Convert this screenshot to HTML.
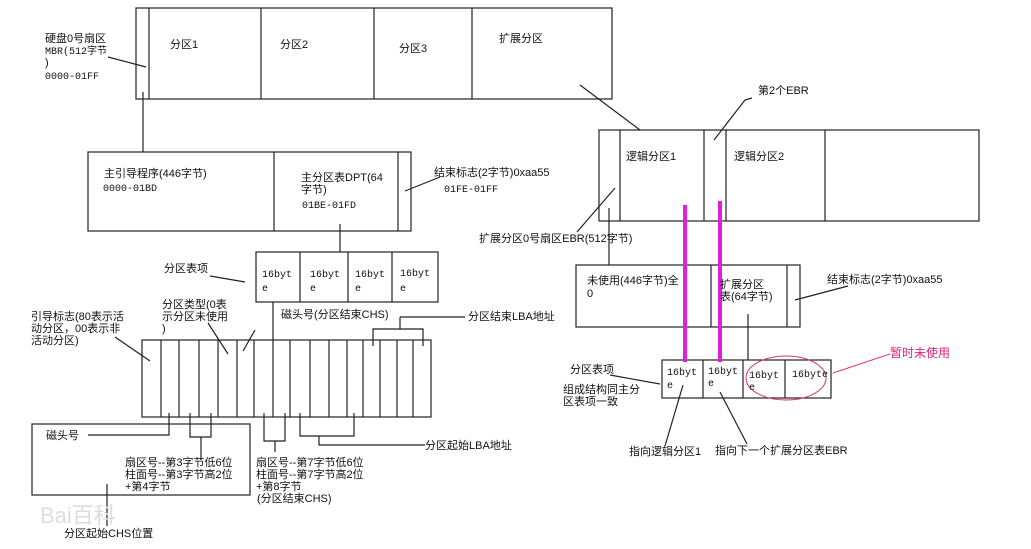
<!DOCTYPE html>
<html><head><meta charset="utf-8"><style>
body{margin:0;background:#fff}
svg{display:block}
text{font-family:"Liberation Sans","Noto Sans CJK SC",sans-serif;font-size:11px;fill:#111}
.m{font-family:"Liberation Mono","Noto Sans CJK SC",monospace;font-size:10px}
</style></head><body>
<svg width="1031" height="549" viewBox="0 0 1031 549" xmlns="http://www.w3.org/2000/svg">
<g stroke="#222" stroke-width="1.2" fill="none">
<!-- top disk -->
<rect x="136" y="8" width="476" height="91"/>
<line x1="149" y1="8" x2="149" y2="99"/><line x1="261" y1="8" x2="261" y2="99"/>
<line x1="374" y1="8" x2="374" y2="99"/><line x1="472" y1="8" x2="472" y2="99"/>
<line x1="108" y1="57" x2="146" y2="67"/>
<line x1="143" y1="92" x2="143" y2="152"/>
<line x1="580" y1="85" x2="640" y2="130"/>
<!-- MBR box -->
<rect x="88" y="152" width="323" height="79"/>
<line x1="274" y1="152" x2="274" y2="231"/><line x1="398" y1="152" x2="398" y2="231"/>
<line x1="340" y1="224" x2="340" y2="252"/>
<line x1="405" y1="191" x2="440" y2="177"/>
<!-- 16byt table -->
<rect x="256" y="252" width="182" height="50"/>
<line x1="300" y1="252" x2="300" y2="302"/><line x1="348" y1="252" x2="348" y2="302"/><line x1="392" y1="252" x2="392" y2="302"/>
<line x1="210" y1="276" x2="245" y2="282"/>
<!-- entry bytes -->
<rect x="142" y="340" width="289" height="77"/>
<line x1="161" y1="340" x2="161" y2="417"/><line x1="179" y1="340" x2="179" y2="417"/><line x1="199" y1="340" x2="199" y2="417"/>
<line x1="218" y1="340" x2="218" y2="417"/><line x1="237" y1="340" x2="237" y2="417"/><line x1="254" y1="340" x2="254" y2="417"/>
<line x1="273" y1="302" x2="273" y2="417"/><line x1="290" y1="340" x2="290" y2="417"/><line x1="310" y1="340" x2="310" y2="417"/>
<line x1="329" y1="340" x2="329" y2="417"/><line x1="347" y1="340" x2="347" y2="417"/><line x1="363" y1="340" x2="363" y2="417"/>
<line x1="380" y1="340" x2="380" y2="417"/><line x1="397" y1="340" x2="397" y2="417"/><line x1="413" y1="340" x2="413" y2="417"/>
<line x1="115" y1="337" x2="150" y2="361"/>
<line x1="208" y1="323" x2="228" y2="354"/>
<line x1="255" y1="330" x2="243" y2="351"/>
<polyline points="373,346 373,329 423,329 423,346"/><line x1="400" y1="329" x2="400" y2="317"/><line x1="400" y1="317" x2="465" y2="317"/>
<!-- below entry -->
<polyline points="88,435 169,435 169,413"/>
<polyline points="190,413 190,437 211,437 211,413"/><line x1="201" y1="437" x2="201" y2="460"/>
<polyline points="264,413 264,441 285,441 285,413"/><line x1="275" y1="441" x2="275" y2="452"/>
<polyline points="300,413 300,436 354,436 354,413"/><polyline points="319,436 319,445 425,445"/>
<rect x="32" y="424" width="218" height="71"/>
<line x1="107" y1="484" x2="107" y2="526"/>
<!-- EBR -->
<rect x="599" y="130" width="380" height="91"/>
<line x1="620" y1="130" x2="620" y2="221"/><line x1="704" y1="130" x2="704" y2="221"/>
<line x1="726" y1="130" x2="726" y2="221"/><line x1="825" y1="130" x2="825" y2="221"/>
<line x1="615" y1="188" x2="577" y2="232"/>
<line x1="714" y1="140" x2="745" y2="100"/><line x1="745" y1="100" x2="752" y2="98"/>
<line x1="609" y1="208" x2="609" y2="265"/>
<rect x="576" y="265" width="224" height="62"/>
<line x1="711" y1="265" x2="711" y2="327"/><line x1="787" y1="265" x2="787" y2="327"/>
<line x1="795" y1="300" x2="848" y2="286"/>
<line x1="748" y1="314" x2="748" y2="360"/>
<rect x="662" y="360" width="169" height="38"/>
<line x1="703" y1="360" x2="703" y2="398"/><line x1="743" y1="360" x2="743" y2="398"/><line x1="785" y1="360" x2="785" y2="398"/>
<line x1="610" y1="375" x2="660" y2="384"/>
<line x1="683" y1="385" x2="665" y2="446"/>
<line x1="720" y1="392" x2="747" y2="444"/>
</g>
<g stroke="#e020e0" stroke-width="4"><line x1="685" y1="205" x2="685" y2="362"/><line x1="720" y1="201" x2="720" y2="362"/></g>
<ellipse cx="786" cy="378" rx="40" ry="22" fill="none" stroke="#e0307a" stroke-width="1"/>
<line x1="833" y1="373" x2="890" y2="354" stroke="#e0307a" stroke-width="1"/>
<text x="890" y="357" style="fill:#e0207a;font-size:12px">暂时未使用</text>
<!-- texts -->
<text x="45" y="42">硬盘0号扇区</text><text x="45" y="54" class="m">MBR(512字节</text><text x="45" y="66">)</text><text x="45" y="79" class="m">0000-01FF</text>
<text x="170" y="48">分区1</text><text x="280" y="48">分区2</text><text x="399" y="52">分区3</text><text x="499" y="42">扩展分区</text>
<text x="104" y="177">主引导程序(446字节)</text><text x="103" y="191" class="m">0000-01BD</text>
<text x="301" y="181">主分区表DPT(64</text><text x="301" y="193">字节)</text><text x="302" y="208" class="m">01BE-01FD</text>
<text x="434" y="176">结束标志(2字节)0xaa55</text><text x="444" y="192" class="m">01FE-01FF</text>
<text x="164" y="272">分区表项</text>
<text x="262" y="277" class="m">16byt</text><text x="262" y="291" class="m">e</text>
<text x="310" y="277" class="m">16byt</text><text x="310" y="291" class="m">e</text>
<text x="355" y="277" class="m">16byt</text><text x="355" y="291" class="m">e</text>
<text x="400" y="276" class="m">16byt</text><text x="400" y="291" class="m">e</text>
<text x="31" y="320">引导标志(80表示活</text><text x="31" y="332">动分区，00表示非</text><text x="31" y="344">活动分区)</text>
<text x="162" y="308">分区类型(0表</text><text x="162" y="320">示分区未使用</text><text x="162" y="332">)</text>
<text x="281" y="318">磁头号(分区结束CHS)</text>
<text x="468" y="320">分区结束LBA地址</text>
<text x="46" y="439">磁头号</text>
<text x="125" y="466">扇区号--第3字节低6位</text><text x="125" y="478">柱面号--第3字节高2位</text><text x="125" y="490">+第4字节</text>
<text x="256" y="466">扇区号--第7字节低6位</text><text x="256" y="478">柱面号--第7字节高2位</text><text x="256" y="490">+第8字节</text><text x="257" y="502">(分区结束CHS)</text>
<text x="425" y="449">分区起始LBA地址</text>
<text x="64" y="537">分区起始CHS位置</text>
<text x="40" y="523" style="fill:#ddd;font-size:22px">Bai百科</text>
<text x="758" y="94">第2个EBR</text>
<text x="626" y="160">逻辑分区1</text><text x="734" y="160">逻辑分区2</text>
<text x="479" y="242">扩展分区0号扇区EBR(512字节)</text>
<text x="587" y="284">未使用(446字节)全</text><text x="587" y="297">0</text>
<text x="720" y="288">扩展分区</text><text x="720" y="300">表(64字节)</text>
<text x="827" y="283">结束标志(2字节)0xaa55</text>
<text x="570" y="373">分区表项</text><text x="563" y="393">组成结构同主分</text><text x="563" y="405">区表项一致</text>
<text x="667" y="375" class="m">16byt</text><text x="667" y="388" class="m">e</text>
<text x="708" y="374" class="m">16byt</text><text x="708" y="386" class="m">e</text>
<text x="749" y="378" class="m">16byt</text><text x="749" y="390" class="m">e</text>
<text x="792" y="377" class="m">16byte</text>
<text x="629" y="455">指向逻辑分区1</text><text x="715" y="454">指向下一个扩展分区表EBR</text>
</svg>
</body></html>
